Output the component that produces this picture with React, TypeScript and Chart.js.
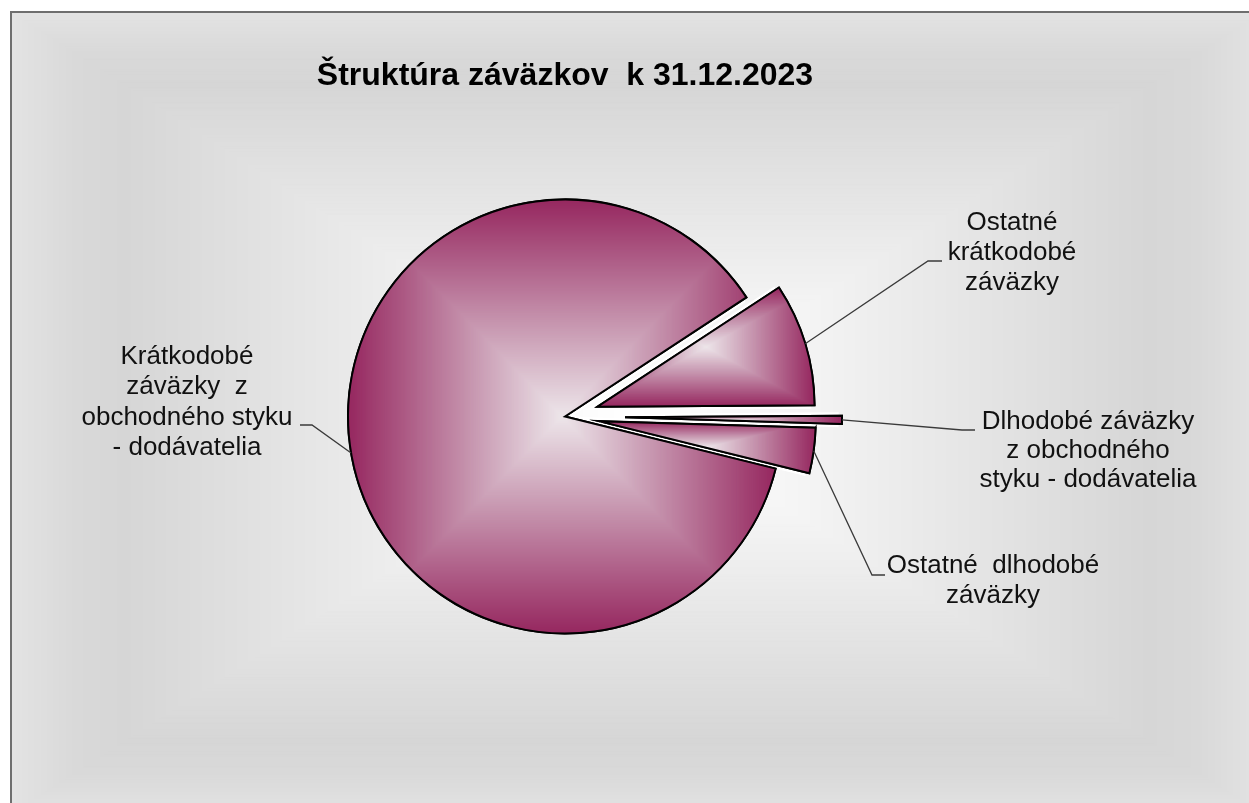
import React, { useEffect, useRef } from "react";
import { Chart, registerables } from "chart.js";

Chart.register(...registerables);

// ---------- data ----------
const categories = [
  "Krátkodobé záväzky z obchodného styku - dodávatelia",
  "Ostatné krátkodobé záväzky",
  "Dlhodobé záväzky z obchodného styku - dodávatelia",
  "Ostatné dlhodobé záväzky",
];
const shares = [86.89, 9.14, 0.6, 3.37];
const labelLines = [
  ["Krátkodobé", "záväzky  z", "obchodného styku", "- dodávatelia"],
  ["Ostatné", "krátkodobé", "záväzky"],
  ["Dlhodobé záväzky", "z obchodného", "styku - dodávatelia"],
  ["Ostatné  dlhodobé", "záväzky"],
];
const titleText = "Štruktúra záväzkov  k 31.12.2023";

// ---------- layout / style ----------
const explodeOffsets = [0, 34, 60, 34];
const labelLayout = [
  { x: 175, y: 351, lh: 30.4, leader: [[300, 412], [288, 412]] },
  { x: 1000, y: 217, lh: 30, leader: [[916, 248], [930, 248]] },
  { x: 1076, y: 416, lh: 29, leader: [[950, 417], [963, 417]] },
  { x: 981, y: 560, lh: 30, leader: [[860, 562], [873, 562]] },
];
type Stop = [number, number[]];
const bgStops: Stop[] = [
  [0, [255, 255, 255]],
  [0.25, [245, 245, 245]],
  [0.45, [234, 234, 234]],
  [0.65, [223, 223, 223]],
  [0.82, [214, 214, 214]],
  [0.9, [217, 217, 217]],
  [1, [227, 227, 227]],
];
const sliceStops: Stop[] = [
  [0, [237, 230, 234]],
  [0.4, [201, 155, 179]],
  [1, [150, 40, 96]],
];

function colorAt(stops: Stop[], t: number) {
  for (let i = 1; i < stops.length; i++) {
    if (t <= stops[i][0]) {
      const [t0, c0] = stops[i - 1];
      const [t1, c1] = stops[i];
      const f = (t - t0) / (t1 - t0 || 1);
      const c = c0.map((v, k) => Math.round(v + (c1[k] - v) * f));
      return `rgb(${c[0]},${c[1]},${c[2]})`;
    }
  }
  const c = stops[stops.length - 1][1];
  return `rgb(${c[0]},${c[1]},${c[2]})`;
}

function fillRectGradient(ctx: CanvasRenderingContext2D, x0: number, y0: number, x1: number, y1: number, stops: Stop[]) {
  const cx = (x0 + x1) / 2, cy = (y0 + y1) / 2;
  const hw = (x1 - x0) / 2, hh = (y1 - y0) / 2;
  const n = Math.max(8, Math.ceil(Math.max(hw, hh)));
  for (let i = n; i >= 1; i--) {
    const t = i / n;
    ctx.fillStyle = colorAt(stops, t);
    ctx.fillRect(cx - hw * t, cy - hh * t, 2 * hw * t, 2 * hh * t);
  }
}

function wedgePath(ctx: CanvasRenderingContext2D, a: any) {
  ctx.beginPath();
  ctx.moveTo(a.x, a.y);
  ctx.arc(a.x, a.y, a.outerRadius, a.startAngle, a.endAngle);
  ctx.closePath();
}

function wedgeBox(a: any) {
  const pts: number[][] = [[a.x, a.y]];
  const r = a.outerRadius;
  pts.push([a.x + r * Math.cos(a.startAngle), a.y + r * Math.sin(a.startAngle)]);
  pts.push([a.x + r * Math.cos(a.endAngle), a.y + r * Math.sin(a.endAngle)]);
  for (let k = -8; k <= 12; k++) {
    const ang = (k * Math.PI) / 2;
    if (ang > a.startAngle && ang < a.endAngle) pts.push([a.x + r * Math.cos(ang), a.y + r * Math.sin(ang)]);
  }
  const xs = pts.map((p) => p[0]), ys = pts.map((p) => p[1]);
  return [Math.min(...xs), Math.min(...ys), Math.max(...xs), Math.max(...ys)];
}

function shiftOf(a: any, i: number) {
  const mid = (a.startAngle + a.endAngle) / 2;
  const d = explodeOffsets[i] || 0;
  return [Math.cos(mid) * d, Math.sin(mid) * d];
}

const piePlugin = {
  id: "explodedGradientPie",
  beforeDraw(chart: any) {
    const ctx = chart.ctx as CanvasRenderingContext2D;
    ctx.save();
    fillRectGradient(ctx, 0, 0, chart.width, chart.height, bgStops);
    ctx.restore();
  },
  beforeDatasetDraw(chart: any, args: any) {
    const ctx = chart.ctx as CanvasRenderingContext2D;
    const arcs = chart.getDatasetMeta(args.index).data;
    // white halo along straight edges
    arcs.forEach((a: any, i: number) => {
      const [dx, dy] = shiftOf(a, i);
      const r = a.outerRadius * 0.985;
      ctx.save();
      ctx.translate(dx, dy);
      ctx.strokeStyle = "#ffffff";
      ctx.lineWidth = 7;
      ctx.lineJoin = "miter";
      ctx.beginPath();
      ctx.moveTo(a.x + r * Math.cos(a.startAngle), a.y + r * Math.sin(a.startAngle));
      ctx.lineTo(a.x, a.y);
      ctx.lineTo(a.x + r * Math.cos(a.endAngle), a.y + r * Math.sin(a.endAngle));
      ctx.stroke();
      ctx.restore();
    });
    arcs.forEach((a: any, i: number) => {
      const [dx, dy] = shiftOf(a, i);
      ctx.save();
      ctx.translate(dx, dy);
      a.draw(ctx);
      ctx.save();
      wedgePath(ctx, a);
      ctx.clip();
      const [x0, y0, x1, y1] = wedgeBox(a);
      fillRectGradient(ctx, x0, y0, x1, y1, sliceStops);
      ctx.restore();
      wedgePath(ctx, a);
      ctx.lineWidth = 2;
      ctx.strokeStyle = "#000000";
      ctx.lineJoin = "miter";
      ctx.stroke();
      ctx.restore();
    });
    return false;
  },
  afterDraw(chart: any) {
    const ctx = chart.ctx as CanvasRenderingContext2D;
    const arcs = chart.getDatasetMeta(0).data;
    ctx.save();
    // title
    ctx.fillStyle = "#000";
    ctx.textAlign = "center";
    ctx.textBaseline = "alphabetic";
    ctx.font = 'bold 32px "Liberation Sans", Arial, sans-serif';
    ctx.fillText(titleText, 553, 72);
    // leaders
    ctx.strokeStyle = "#3a3a3a";
    ctx.lineWidth = 1.3;
    arcs.forEach((a: any, i: number) => {
      const [dx, dy] = shiftOf(a, i);
      const mid = (a.startAngle + a.endAngle) / 2;
      const sx = a.x + dx + a.outerRadius * Math.cos(mid);
      const sy = a.y + dy + a.outerRadius * Math.sin(mid);
      const L = labelLayout[i];
      ctx.beginPath();
      ctx.moveTo(sx, sy);
      L.leader.forEach((p) => ctx.lineTo(p[0], p[1]));
      ctx.stroke();
    });
    // labels
    ctx.fillStyle = "#111";
    ctx.font = '26px "Liberation Sans", Arial, sans-serif';
    labelLines.forEach((lines, i) => {
      const L = labelLayout[i];
      lines.forEach((ln, k) => ctx.fillText(ln, L.x, L.y + k * L.lh));
    });
    ctx.restore();
  },
};

export default function App() {
  const ref = useRef<HTMLCanvasElement>(null);
  useEffect(() => {
    const chart = new Chart(ref.current as HTMLCanvasElement, {
      type: "pie",
      data: {
        labels: categories,
        datasets: [
          {
            data: shares,
            backgroundColor: "#962860",
            borderColor: "#000000",
            borderWidth: 2,
            borderJoinStyle: "miter",
            radius: 217,
            rotation: 103.9,
            hoverOffset: 0,
          } as any,
        ],
      },
      options: {
        animation: false,
        responsive: true,
        maintainAspectRatio: false,
        events: [],
        rotation: 103.9,
        layout: { padding: { left: 0, right: 144, top: 7, bottom: 0 } },
        plugins: {
          legend: { display: false },
          tooltip: { enabled: false },
          title: { display: false },
        },
      } as any,
      plugins: [piePlugin as any],
    });
    return () => chart.destroy();
  }, []);
  return (
    <div style={{ position: "fixed", left: 0, top: 0, width: 1249, height: 803, overflow: "hidden", background: "#ffffff" }}>
      <div
        style={{
          position: "absolute",
          left: 10,
          top: 11,
          width: 1250,
          height: 800,
          borderLeft: "2px solid #6f6f6f",
          borderTop: "2px solid #6f6f6f",
        }}
      >
        <div style={{ position: "relative", width: 1250, height: 800 }}>
          <canvas ref={ref} />
        </div>
      </div>
    </div>
  );
}
